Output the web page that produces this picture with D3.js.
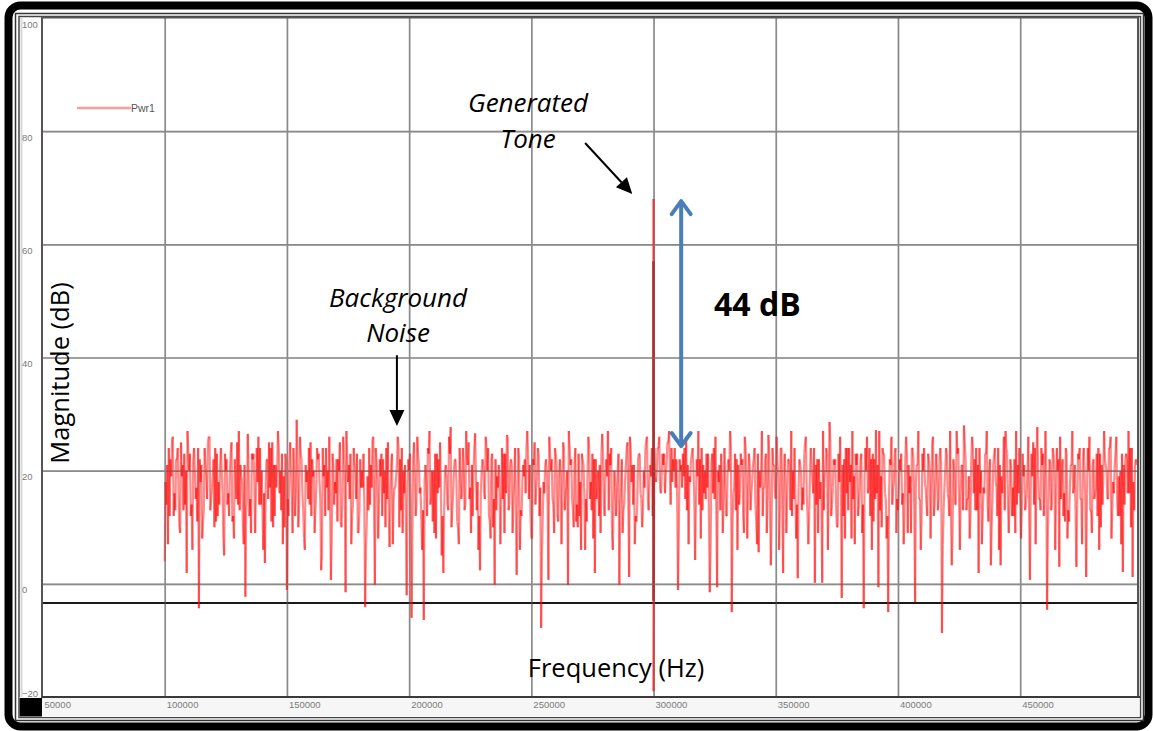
<!DOCTYPE html>
<html>
<head>
<meta charset="utf-8">
<script src="https://cdn.jsdelivr.net/npm/d3@7"></script>
<style>
  html, body { margin: 0; padding: 0; background: #fff; }
  svg { display: block; }
  .tick-label { font-family: "Liberation Sans", Arial, sans-serif; font-size: 9.5px; fill: #7a7a7a; }
  .note { font-family: "Open Sans", sans-serif; fill: #000; }
</style>
</head>
<body>
<svg id="chart" width="1153" height="731"></svg>
<script>
// ---- axis ticks ----
const xTicks = [50000, 100000, 150000, 200000, 250000, 300000, 350000, 400000, 450000];
const yTicks = [100, 80, 60, 40, 20, 0, -20];

// ---- spectrum trace: three bins per kHz from 100 kHz ----
const noiseStart = 100000;
const noiseStep = 1000;
// bins at whole kHz
const noise100k = [
  4, 21, 12, 25.5, 16, 22, 10, 19, 23, 1.9, 20, 14, 24, 17, -4.3, 21, 13, 19, 26, 15,
  22, 11, 18, 24, 8, 20, 16, 23, 12, 19, 14, 21, 10, -2.3, 26.5, 15, 22, 9, 18, 24,
  13, 3.7, 22, 17, 25, 12, 20, 16, 23, 10, -1.1, 21, 15, 19, 29, 14, 22, 8, 18, 24,
  12, 20, 17, 23, 2.4, 19, 24, 13, 0.7, 21, 16, 22, 11, 26, -1.5, 18, 23, 14, 20, 9,
  22, 17, -4.1, 19, 14, 25.5, -0.2, 18, 22, 12, 20, 15, 6.5, 23, 17, 21, 10, 24, 16, -2
];
const noise200k = [
  20, -6, 25, 14, 21, 11, -6.4, 18, 23, 15, 20, 8, 22, 17, 1.9, 21, 13, 27.7, 16, 22,
  10, 19, 24, 14, 21, 17, 12, 26.6, 18, 2.4, 22, 15, 20, 11, 23, -0.2, 19, 16, 24, 9,
  26.3, 14, 21, 18, 1.6, 22, 12, 19, 24, 15, 8, 21, 17, 23, -7.8, 18, 22, 0.7, 20, 14,
  23, 11, 19, 25, 16, -0.2, 21, 13, 24, 10, 18, 22, 6, 20, 15, 23, 1.9, 17, 21, 26.5,
  12, 19, 23, 9, 20, 16, -0.2, 22, 14, 24, 1.2, 18, 21, 11, 23, 15, 20, 25.4, 13, 19
];
const noise300k = [
  22, 18, 24, 16, 21, 19, 25, 14, 22, 17, -1.1, 20, 23, 15, 21, 18, 24, 4.2, 19, 22,
  13, 20, 17, -1.5, 23, 15, -0.6, 21, 18, 24, 12, 20, -5, 17, 22, 14, 21, 9, 19, 23,
  16, 22, 11, 5.6, 20, 17, 23, 26.3, 3.3, 21, 15, 19, 24, 1.9, 18, 22, 13, 20, 16, 1.0,
  21, 17, 25, 12, 20, 18, 0.2, 22, 15, 0.2, 19, 23, 28.6, 14, 21, 10, 18, -2.5, 22, 16,
  24, 8, 19, 21, 14, 23, -4.3, 20, 17, 22, 11, 27.2, -0.6, 19, 23, 15, -5, 21, 17, 24
];
const noise400k = [
  13, 20, 16, 22, 9, 19, 24, -3.2, 21, 15, 23, 18, 12, 20, 25, 14, 19, 22, -8.7, 17,
  23, 12, 3.3, 20, 27, 15, 21, 28, 13, 19, 22, 16, 24, 1.9, 20, 17, 23, 11, 3.3, 21,
  18, 24, 3.3, 20, 27, 14, 22, 17, 9, 21, 16, 23, 13, 20, 0.7, 19, 24, 27.7, 15, 21,
  18, -4.6, 22, 14, 20, 24, 3, 19, 16, 23, 11, 21, 17, 3, 22, 15, 24, 1.2, 20, 13,
  22, 17, 24, 10, 19, 21, 15, 26, 18, 23, 12, 20, 2.1, 22, 16, 24, 1.2, 21
];
// bins one third of a kHz later
const noise100kB = [
  18, 7, 22, 26, 13, 24, 9, 21, 14, 27, 23, 6, 20, 11, 22, 8, 24, 15, 26, 17,
  10, 23, 14, 20, 5, 22, 12, 25, 8, 15, 27, 19, 7, 13, 20, 9, 23, 16, 26, 14,
  6, 18, 15, 24, 10, 21, 27, 20, 7, 23, 15, 25, 9, 12, 21, 26, 16, 6, 20, 14,
  22, 9, 24, 18, 5, 21, 17, 26, 8, 14, 22, 20, 10, 23, 27, 21, 7, 24, 15, 9,
  17, 23, 6, 13, 21, 26, 24, 8, 19, 22, 10, 25, 15, 7, 17, 26, 22, 9, 21, 16
];
const noise200kB = [
  23, 8, 19, 26, 16, 6, 18, 12, 27, 20, 9, 23, 17, 5, 13, 19, 26, 10, 20, 18,
  7, 15, 21, 27, 25, 9, 20, 19, 6, 16, 21, 26, 24, 8, 10, 22, 17, 7, 15, 23,
  26, 21, 9, 24, 13, 6, 18, 22, 27, 21, 8, 25, 19, 12, 5, 16, 20, 26, 22, 9,
  21, 19, 7, 24, 17, 27, 22, 10, 11, 23, 6, 21, 15, 26, 18, 8, 22, 20, 9, 23,
  19, 27, 21, 6, 17, 20, 13, 9, 18, 25, 26, 21, 7, 14, 23, 10, 17, 26, 18, 24
];
const noise300kB = [
  24, 20, 26, 19, 23, 21, 27, 24, 20, 22, 9, 21, 19, 26, 7, 22, 20, 14, 27, 8,
  21, 15, 23, 6, 16, 26, 20, 13, 9, 18, 21, 27, 11, 23, 6, 16, 22, 26, 8, 21,
  18, 24, 7, 20, 27, 17, 9, 23, 13, 21, 26, 6, 24, 20, 9, 22, 27, 15, 8, 17,
  20, 14, 26, 7, 24, 16, 21, 9, 18, 27, 20, 6, 25, 17, 22, 10, 26, 21, 8, 24,
  18, 27, 7, 23, 17, 9, 19, 26, 24, 6, 22, 16, 27, 10, 23, 8, 15, 26, 18, 9
];
const noise400kB = [
  17, 23, 7, 26, 21, 9, 22, 18, 27, 6, 20, 17, 23, 8, 26, 19, 13, 24, 7, 20,
  16, 27, 9, 14, 23, 6, 21, 25, 15, 8, 26, 22, 13, 24, 7, 16, 27, 20, 10, 23,
  17, 6, 19, 26, 24, 9, 20, 12, 27, 16, 8, 19, 14, 26, 18, 25, 7, 20, 13, 23,
  27, 9, 21, 24, 6, 20, 26, 22, 11, 8, 17, 27, 21, 14, 24, 7, 20, 16, 26, 9,
  15, 23, 6, 21, 27, 20, 24, 8, 16, 26, 19, 7, 21, 23, 27, 10, 18, 22
];
// bins two thirds of a kHz later
const noise100kC = [
  14, 24, 19, 12, 22, 16, 25, 13, 20, 23, 12, 22, 15, 24, 18, 11, 21, 25, 13, 19,
  24, 12, 21, 16, 23, 14, 20, 11, 22, 25, 13, 18, 21, 15, 12, 23, 18, 24, 14, 20,
  16, 22, 25, 11, 21, 17, 24, 13, 19, 22, 12, 20, 24, 16, 10, 23, 13, 21, 15, 25,
  19, 13, 22, 15, 24, 12, 20, 14, 23, 18, 11, 25, 14, 19, 22, 15, 12, 21, 23, 13,
  20, 14, 11, 24, 17, 12, 22, 14, 23, 16, 24, 12, 21, 15, 19, 24, 13, 20, 11, 22
];
const noise200kC = [
  15, 22, 12, 23, 17, 13, 21, 24, 14, 11, 23, 16, 25, 12, 20, 14, 23, 13, 22, 11,
  24, 16, 13, 22, 15, 21, 24, 13, 12, 20, 16, 24, 12, 22, 15, 13, 21, 14, 23, 16,
  13, 22, 15, 12, 24, 13, 21, 16, 23, 12, 22, 14, 24, 17, 12, 21, 14, 23, 15, 24,
  12, 22, 16, 13, 20, 24, 15, 21, 14, 12, 23, 16, 11, 24, 13, 22, 15, 12, 23, 14,
  22, 13, 24, 15, 12, 23, 17, 13, 21, 15, 24, 14, 12, 22, 16, 13, 24, 15, 21, 12
];
const noise300kC = [
  19, 24, 17, 23, 16, 25, 20, 18, 24, 15, 22, 17, 24, 13, 19, 23, 15, 22, 14, 24,
  16, 23, 12, 21, 24, 13, 18, 23, 15, 12, 22, 24, 16, 13, 21, 23, 12, 24, 16, 13,
  21, 14, 23, 17, 12, 22, 15, 13, 24, 16, 22, 12, 14, 23, 15, 21, 12, 24, 14, 22,
  13, 23, 16, 12, 21, 24, 14, 22, 15, 13, 24, 17, 12, 22, 14, 23, 16, 12, 24, 13,
  21, 15, 23, 12, 22, 14, 24, 16, 12, 23, 15, 21, 13, 24, 16, 12, 22, 14, 23, 15
];
const noise400kC = [
  22, 14, 12, 23, 16, 24, 13, 21, 15, 12, 24, 14, 22, 16, 12, 23, 15, 21, 13, 24,
  15, 12, 22, 14, 24, 16, 13, 22, 15, 12, 24, 13, 21, 16, 12, 23, 14, 22, 15, 24,
  12, 21, 16, 13, 23, 15, 12, 22, 14, 24, 13, 21, 16, 12, 23, 14, 22, 15, 24, 12,
  21, 16, 13, 23, 14, 22, 15, 12, 24, 13, 21, 16, 12, 23, 15, 22, 14, 24, 13, 21,
  16, 12, 23, 14, 22, 15, 24, 13, 21, 15, 12, 23, 14, 22, 16, 24, 13, 21
];

// ---- generated tone at 300 kHz ----
const toneFreq = 300000;
const toneSweep = [68, -19];     // full swing of the tone bin
const toneCore = [57, -3];       // overlapped, darker part of the bin
const noiseRef = 24;             // top of the noise floor
const toneRise = 44;             // tone above the noise floor, dB
const floorLevel = -3.4;         // black reference line
const legendLabel = "Pwr1";

// ---- layout ----
const svg = d3.select("#chart");
const plot = { left: 42, top: 17.5, right: 1138, bottom: 697 };
const x = d3.scaleLinear().domain([50000, 500000]).range([42.5, 1142.4]);
const y = d3.scaleLinear().domain([-20, 100]).range([697, 18]);

// outer rounded frame
svg.append("rect").attr("x", 8.5).attr("y", 5.5).attr("width", 1140).attr("height", 721)
  .attr("rx", 12).attr("fill", "#fff").attr("stroke", "#000").attr("stroke-width", 8);
// inner double frame
svg.append("rect").attr("x", 15.5).attr("y", 13.5).attr("width", 1128).attr("height", 707)
  .attr("fill", "none").attr("stroke", "#333").attr("stroke-width", 1.5);
svg.append("rect").attr("x", 19).attr("y", 16.5).attr("width", 1121.5).attr("height", 701)
  .attr("fill", "none").attr("stroke", "#444").attr("stroke-width", 1.5);
svg.append("line").attr("x1", 21.5).attr("x2", 21.5).attr("y1", 18).attr("y2", 697)
  .attr("stroke", "#d8d8d8").attr("stroke-width", 2);

// strip under the plot
svg.append("rect").attr("x", 19.5).attr("y", 697).attr("width", 1120).attr("height", 20)
  .attr("fill", "#f6f6f6");
svg.append("rect").attr("x", 19.5).attr("y", 698).attr("width", 22.5).attr("height", 18.5)
  .attr("fill", "#000");

// clip for the data
svg.append("clipPath").attr("id", "plotClip").append("rect")
  .attr("x", plot.left).attr("y", plot.top)
  .attr("width", plot.right - plot.left).attr("height", plot.bottom - plot.top);

// gridlines
const gridX = d3.axisBottom(x).tickValues(xTicks.slice(1))
  .tickSize(-(plot.bottom - plot.top)).tickFormat("");
const gridY = d3.axisLeft(y).tickValues(yTicks.slice(1, -1))
  .tickSize(-(plot.right - plot.left)).tickFormat("");

function drawGrid(opacity, cls) {
  const gx = svg.append("g").attr("class", cls)
    .attr("transform", `translate(0,${plot.bottom})`).call(gridX);
  const gy = svg.append("g").attr("class", cls)
    .attr("transform", `translate(${plot.left},0)`).call(gridY);
  [gx, gy].forEach(g => {
    g.select(".domain").remove();
    g.selectAll("line").attr("stroke", "#8a8a8a").attr("stroke-width", 1.6)
      .attr("stroke-opacity", opacity);
  });
}
drawGrid(1, "grid");

// reference line
svg.append("line").attr("x1", plot.left).attr("x2", plot.right)
  .attr("y1", y(floorLevel)).attr("y2", y(floorLevel))
  .attr("stroke", "#1a1a1a").attr("stroke-width", 2);

// spectrum trace: the three bin sets merged in frequency order
const binsA = [...noise100k, ...noise200k, ...noise300k, ...noise400k];
const binsB = [...noise100kB, ...noise200kB, ...noise300kB, ...noise400kB];
const binsC = [...noise100kC, ...noise200kC, ...noise300kC, ...noise400kC];
const toneIndex = (toneFreq - noiseStart) / noiseStep;
const trace = [];
binsA.forEach((v, i) => {
  const f = noiseStart + i * noiseStep;
  trace.push([f, v]);
  if (i === toneIndex) toneSweep.forEach(t => trace.push([f, t]));
  if (i < binsB.length) trace.push([f + noiseStep / 3, binsB[i]]);
  if (i < binsC.length) trace.push([f + 2 * noiseStep / 3, binsC[i]]);
});
const line = d3.line().x(d => x(d[0])).y(d => y(d[1]));

// each step is its own translucent stroke so crossings build up colour
const segments = d3.pairs(trace);
const dataLayer = svg.append("g").attr("clip-path", "url(#plotClip)");
dataLayer.selectAll("path.seg").data(segments).join("path").attr("class", "seg")
  .attr("d", line)
  .attr("fill", "none").attr("stroke", "#ff0000").attr("stroke-opacity", 0.45)
  .attr("stroke-width", 2.2).attr("stroke-linecap", "butt");
dataLayer.append("path").datum(toneCore.map(v => [toneFreq, v])).attr("d", line)
  .attr("fill", "none").attr("stroke", "#a81c1c").attr("stroke-width", 2.4);

// faint gridlines over the trace so they show through the dense band
drawGrid(0.3, "grid-over");

// plot frame
svg.append("rect").attr("x", plot.left).attr("y", plot.top)
  .attr("width", plot.right - plot.left).attr("height", plot.bottom - plot.top)
  .attr("fill", "none").attr("stroke", "#555").attr("stroke-width", 2);
svg.append("line").attr("x1", plot.left).attr("x2", plot.right + 2)
  .attr("y1", plot.bottom).attr("y2", plot.bottom)
  .attr("stroke", "#3a3a3a").attr("stroke-width", 2.2);

// tick labels
const axX = svg.append("g").attr("transform", `translate(0,${plot.bottom})`)
  .call(d3.axisBottom(x).tickValues(xTicks).tickSize(0).tickFormat(d3.format("d")));
axX.select(".domain").remove();
axX.selectAll("text").attr("class", "tick-label").attr("text-anchor", "start")
  .attr("x", 1.5).attr("y", 11).attr("dy", 0).attr("font-size", null).attr("font-family", null);

const axY = svg.append("g").attr("transform", "translate(22,0)")
  .call(d3.axisLeft(y).tickValues(yTicks).tickSize(0).tickFormat(d3.format("d")));
axY.select(".domain").remove();
axY.selectAll("text").attr("class", "tick-label").attr("text-anchor", "start")
  .attr("x", 0).attr("dy", d => d === yTicks[yTicks.length - 1] ? "-0.1em" : "0.95em")
  .attr("font-size", null).attr("font-family", null);

// legend
svg.append("line").attr("x1", 77).attr("x2", 131).attr("y1", 108).attr("y2", 108)
  .attr("stroke", "#ff9a9a").attr("stroke-width", 2.5);
svg.append("text").attr("class", "tick-label").attr("x", 131).attr("y", 111.5)
  .style("font-size", "10.5px").style("fill", "#555").text(legendLabel);

// axis titles
svg.append("text").attr("class", "note").attr("font-size", 25.5)
  .attr("text-anchor", "middle").attr("transform", "translate(69,373) rotate(-90)")
  .text("Magnitude (dB)");
svg.append("text").attr("class", "note").attr("font-size", 25.5)
  .attr("text-anchor", "middle").attr("x", 616).attr("y", 677)
  .text("Frequency (Hz)");

// annotations
function noteLines(lines, cx, y0, dy) {
  lines.forEach((t, i) => svg.append("text").attr("class", "note")
    .attr("font-size", 26).attr("font-style", "italic").attr("text-anchor", "middle")
    .attr("x", cx).attr("y", y0 + i * dy).text(t));
}
noteLines(["Generated", "Tone"], 528, 112, 36);
noteLines(["Background", "Noise"], 398, 307, 35);

svg.append("text").attr("class", "note").attr("font-size", 32).attr("font-weight", 700)
  .attr("x", 714).attr("y", 316).text(`${toneRise} dB`);

// filled-head arrow between two data-space points
function solidArrow(p0, p1, head, halfW) {
  const x0 = x(p0[0]), y0 = y(p0[1]), x1 = x(p1[0]), y1 = y(p1[1]);
  const ang = Math.atan2(y1 - y0, x1 - x0);
  const bx = x1 - head * Math.cos(ang), by = y1 - head * Math.sin(ang);
  svg.append("line").attr("x1", x0).attr("y1", y0).attr("x2", bx).attr("y2", by)
    .attr("stroke", "#000").attr("stroke-width", 2);
  const nx = -Math.sin(ang) * halfW, ny = Math.cos(ang) * halfW;
  svg.append("path").attr("d", `M${x1},${y1}L${bx + nx},${by + ny}L${bx - nx},${by - ny}Z`)
    .attr("fill", "#000");
}
solidArrow([272000, 77.9], [291300, 68.9], 16, 7.5);
solidArrow([195000, 40.4], [195000, 27.9], 16, 7.5);

// double arrow spanning the tone above the noise floor
const bx = x(311300);
const yTop = y(noiseRef + toneRise), yBot = y(noiseRef);
const blue = "#4a7ebb";
svg.append("line").attr("x1", bx).attr("x2", bx).attr("y1", yTop + 2).attr("y2", yBot - 2)
  .attr("stroke", blue).attr("stroke-width", 4);
svg.append("path").attr("d", `M${bx - 9.5},${yTop + 15}L${bx},${yTop + 2}L${bx + 9.5},${yTop + 15}`)
  .attr("fill", "none").attr("stroke", blue).attr("stroke-width", 4)
  .attr("stroke-linecap", "round").attr("stroke-linejoin", "round");
svg.append("path").attr("d", `M${bx - 9.5},${yBot - 15}L${bx},${yBot - 2}L${bx + 9.5},${yBot - 15}`)
  .attr("fill", "none").attr("stroke", blue).attr("stroke-width", 4)
  .attr("stroke-linecap", "round").attr("stroke-linejoin", "round");
</script>
</body>
</html>
